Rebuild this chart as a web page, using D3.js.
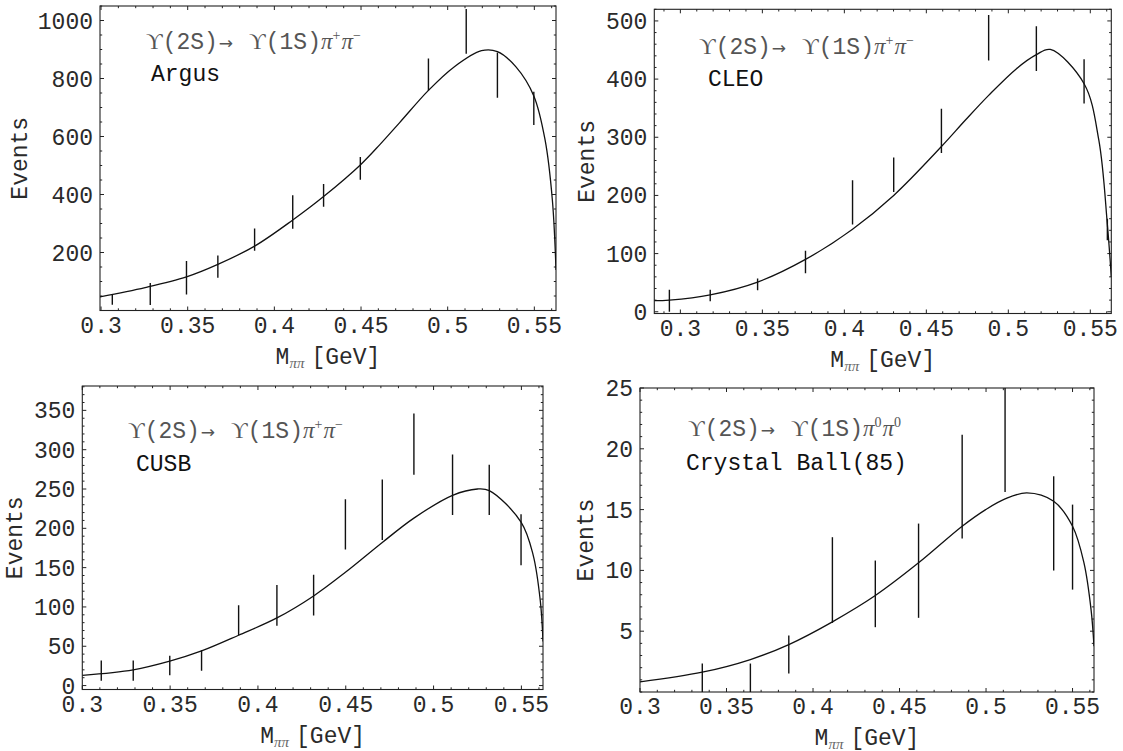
<!DOCTYPE html>
<html>
<head>
<meta charset="utf-8">
<script src="https://cdn.jsdelivr.net/npm/d3@7"></script>
<style>
  html, body { margin: 0; padding: 0; background: #fff; }
  svg { display: block; }
</style>
</head>
<body>
<svg id="chart" width="1123" height="751"></svg>
<script>
// Argus: error bars and fit curve
const argusX = [0.3065, 0.3284, 0.3493, 0.3674, 0.3886, 0.4106, 0.4284, 0.4496, 0.4889, 0.5107, 0.5287, 0.5497];
const argusLo = [20, 19, 55, 113, 206, 282, 358, 451, 758, 885, 734, 640];
const argusHi = [56, 95, 171, 190, 283, 397, 436, 529, 869, 1040, 890, 754];
const argusCurveX = [0.2994, 0.3254, 0.3493, 0.3674, 0.3886, 0.4106, 0.4284, 0.4496, 0.4610, 0.4723, 0.4889, 0.5037, 0.5195, 0.5287, 0.5394, 0.5497, 0.5562, 0.5604, 0.5625];
const argusCurveY = [47, 79, 116, 159, 222, 312, 393, 502, 573, 648, 759, 840, 896, 893, 840, 740, 588, 381, 140];

// CLEO
const cleoX = [0.2933, 0.3182, 0.3471, 0.3763, 0.4050, 0.4301, 0.4592, 0.4880, 0.5171, 0.5462, 0.5604];
const cleoLo = [0, 18, 37, 66, 150, 206, 273, 432, 414, 358, 123];
const cleoHi = [38, 38, 57, 105, 226, 265, 349, 510, 491, 434, 160];
const cleoCurveX = [0.2841, 0.2933, 0.3182, 0.3471, 0.3763, 0.4050, 0.4301, 0.4592, 0.4740, 0.4880, 0.5050, 0.5171, 0.5256, 0.5462, 0.5552, 0.5604, 0.5628];
const cleoCurveY = [19, 20, 29, 51, 90, 142, 200, 284, 330, 372, 418, 442, 451, 392, 295, 150, 60];

// CUSB
const cusbX = [0.3108, 0.3290, 0.3498, 0.3679, 0.3890, 0.4108, 0.4317, 0.4498, 0.4708, 0.4888, 0.5108, 0.5317, 0.5498];
const cusbLo = [6, 6, 13, 19, 64, 76, 89, 173, 185, 268, 217, 217, 153];
const cusbHi = [32, 32, 38, 45, 102, 128, 141, 237, 262, 346, 294, 281, 218];
const cusbCurveX = [0.3, 0.3290, 0.3498, 0.3679, 0.3890, 0.4108, 0.4317, 0.4498, 0.4708, 0.4888, 0.5108, 0.5250, 0.5317, 0.5498, 0.5567, 0.5608, 0.5623];
const cusbCurveY = [13, 20, 31, 44, 64, 86, 114, 144, 182, 213, 242, 250, 248, 208, 166, 107, 56];

// Crystal Ball (85)
const cbX = [0.3360, 0.3638, 0.3860, 0.4112, 0.4360, 0.4610, 0.4862, 0.5110, 0.5391, 0.5500];
const cbLo = [0, 0, 1.52, 5.68, 5.33, 6.10, 12.62, 16.45, 9.99, 8.42];
const cbHi = [2.34, 2.34, 4.64, 12.73, 10.81, 13.85, 21.16, 26, 17.74, 15.41];
const cbCurveX = [0.3, 0.3360, 0.3638, 0.3860, 0.4112, 0.4360, 0.4610, 0.4862, 0.4998, 0.5110, 0.5236, 0.5391, 0.5500, 0.5566, 0.5607, 0.5624];
const cbCurveY = [0.84, 1.63, 2.67, 3.90, 5.77, 7.93, 10.62, 13.63, 15.0, 15.88, 16.37, 15.68, 13.63, 10.62, 6.78, 3.77];

const xTickValues = [0.3, 0.35, 0.4, 0.45, 0.5, 0.55];
const xTickLabels = ["0.3", "0.35", "0.4", "0.45", "0.5", "0.55"];

const MONO = "'Liberation Mono', 'Courier New', monospace";
const SERIF = "'Liberation Serif', 'DejaVu Serif', serif";
const FS = 23;

const panels = [
  { id: 0, name: "Argus", pions: ["+", "\u2212"], xs: argusX, lo: argusLo, hi: argusHi, cx: argusCurveX, cy: argusCurveY,
    left: 100, right: 556, top: 6, bottom: 310.5, xDomain: [0.2994, 0.5625], yDomain: [0, 1050],
    yTicks: [200, 400, 600, 800, 1000], yMinor: 50, eventsX: 20,
    formula: [146, 49], label: [151, 81] },
  { id: 1, name: "CLEO", pions: ["+", "\u2212"], xs: cleoX, lo: cleoLo, hi: cleoHi, cx: cleoCurveX, cy: cleoCurveY,
    left: 654.3, right: 1111.3, top: 9.3, bottom: 313.5, xDomain: [0.2841, 0.5628], yDomain: [-3, 520],
    yTicks: [0, 100, 200, 300, 400, 500], yMinor: 20, eventsX: 587,
    formula: [699, 54], label: [708, 86] },
  { id: 2, name: "CUSB", pions: ["+", "\u2212"], xs: cusbX, lo: cusbLo, hi: cusbHi, cx: cusbCurveX, cy: cusbCurveY,
    left: 82.3, right: 543, top: 386, bottom: 689.5, xDomain: [0.3, 0.5623], yDomain: [-5, 381],
    yTicks: [0, 50, 100, 150, 200, 250, 300, 350], yMinor: 10, eventsX: 15,
    formula: [128, 438], label: [136, 471] },
  { id: 3, name: "Crystal Ball(85)", pions: ["0", "0"], xs: cbX, lo: cbLo, hi: cbHi, cx: cbCurveX, cy: cbCurveY,
    left: 640, right: 1094, top: 388, bottom: 692, xDomain: [0.3, 0.5624], yDomain: [0, 25],
    yTicks: [5, 10, 15, 20, 25], yMinor: 1, eventsX: 586,
    formula: [688, 436], label: [686, 470] }
];

const svg = d3.select("#chart");
const defs = svg.append("defs");

panels.forEach(p => {
  const x = d3.scaleLinear().domain(p.xDomain).range([p.left, p.right]);
  const y = d3.scaleLinear().domain(p.yDomain).range([p.bottom, p.top]);
  const g = svg.append("g");

  defs.append("clipPath").attr("id", "clip" + p.id)
    .append("rect")
    .attr("x", p.left).attr("y", p.top)
    .attr("width", p.right - p.left).attr("height", p.bottom - p.top);

  // frame ticks, inward on all four sides
  const xMinor = d3.range(0.28, 0.57, 0.01).map(v => +v.toFixed(2))
    .filter(v => v >= p.xDomain[0] && v <= p.xDomain[1]);
  const yMin = d3.range(Math.ceil(p.yDomain[0] / p.yMinor) * p.yMinor, p.yDomain[1] + 1e-9, p.yMinor)
    .filter(v => v >= p.yDomain[0]);

  const tickG = g.append("g").attr("stroke", "#222").attr("stroke-width", 1);
  xMinor.forEach(v => {
    const major = xTickValues.some(t => Math.abs(t - v) < 1e-6);
    const len = major ? 4 : 2.2;
    tickG.append("line").attr("x1", x(v)).attr("x2", x(v)).attr("y1", p.bottom).attr("y2", p.bottom - len);
    tickG.append("line").attr("x1", x(v)).attr("x2", x(v)).attr("y1", p.top).attr("y2", p.top + len);
  });
  yMin.forEach(v => {
    const major = p.yTicks.includes(Math.round(v * 1000) / 1000);
    const len = major ? 4 : 2.2;
    tickG.append("line").attr("x1", p.left).attr("x2", p.left + len).attr("y1", y(v)).attr("y2", y(v));
    tickG.append("line").attr("x1", p.right).attr("x2", p.right - len).attr("y1", y(v)).attr("y2", y(v));
  });

  g.append("rect")
    .attr("x", p.left).attr("y", p.top)
    .attr("width", p.right - p.left).attr("height", p.bottom - p.top)
    .attr("fill", "none").attr("stroke", "#222").attr("stroke-width", 1.1);

  // tick labels
  g.append("g").selectAll("text")
    .data(xTickValues)
    .join("text")
    .attr("x", d => x(d))
    .attr("y", p.bottom + 22)
    .attr("text-anchor", "middle")
    .attr("font-family", MONO).attr("font-size", FS).attr("fill", "#2a2a2a")
    .text((d, i) => xTickLabels[i]);

  g.append("g").selectAll("text")
    .data(p.yTicks)
    .join("text")
    .attr("x", p.left - 7)
    .attr("y", d => y(d))
    .attr("dy", "0.35em")
    .attr("text-anchor", "end")
    .attr("font-family", MONO).attr("font-size", FS).attr("fill", "#2a2a2a")
    .text(d => d);

  // axis titles
  g.append("text")
    .attr("transform", `translate(${p.eventsX + 7}, ${(p.top + p.bottom) / 2}) rotate(-90)`)
    .attr("text-anchor", "middle")
    .attr("font-family", MONO).attr("font-size", FS).attr("fill", "#2a2a2a")
    .text("Events");

  const xt = g.append("text")
    .attr("x", (p.left + p.right) / 2)
    .attr("y", p.bottom + 53)
    .attr("text-anchor", "middle")
    .attr("font-family", MONO).attr("font-size", FS).attr("fill", "#2a2a2a");
  xt.append("tspan").text("M");
  xt.append("tspan").attr("font-family", SERIF).attr("font-style", "italic").attr("font-size", 15)
    .attr("fill", "#666").attr("dy", 4).text("\u03c0\u03c0");
  xt.append("tspan").attr("dy", -4).attr("dx", 7).text("[GeV]");

  // annotation
  const ft = g.append("text")
    .attr("x", p.formula[0]).attr("y", p.formula[1])
    .attr("font-family", MONO).attr("font-size", FS).attr("fill", "#555");
  ft.append("tspan").attr("font-family", SERIF).text("\u03d2");
  ft.append("tspan").text("(2S)");
  ft.append("tspan").attr("font-family", "'DejaVu Sans'").attr("font-size", 17).attr("dx", 1).text("\u2192");
  ft.append("tspan").attr("font-family", SERIF).attr("dx", 16).text("\u03d2");
  ft.append("tspan").text("(1S)");
  ft.append("tspan").attr("font-family", SERIF).attr("font-style", "italic").text("\u03c0");
  ft.append("tspan").attr("font-family", SERIF).attr("font-size", 14).attr("dy", -9).text(p.pions[0]);
  ft.append("tspan").attr("font-family", SERIF).attr("font-style", "italic").attr("dy", 9).attr("dx", 1).text("\u03c0");
  ft.append("tspan").attr("font-family", SERIF).attr("font-size", 14).attr("dy", -9).text(p.pions[1]);

  g.append("text")
    .attr("x", p.label[0]).attr("y", p.label[1])
    .attr("font-family", MONO).attr("font-size", FS).attr("fill", "#111")
    .text(p.name);

  // data
  const plot = g.append("g").attr("clip-path", `url(#clip${p.id})`);
  plot.append("g").selectAll("line")
    .data(p.xs)
    .join("line")
    .attr("x1", d => x(d)).attr("x2", d => x(d))
    .attr("y1", (d, i) => y(p.lo[i])).attr("y2", (d, i) => y(p.hi[i]))
    .attr("stroke", "#111").attr("stroke-width", 1.4);

  const line = d3.line()
    .x((d, i) => x(p.cx[i]))
    .y(d => y(d))
    .curve(d3.curveCatmullRom.alpha(0.5));
  plot.append("path")
    .attr("d", line(p.cy))
    .attr("fill", "none").attr("stroke", "#111").attr("stroke-width", 1.3);
});
</script>
</body>
</html>
